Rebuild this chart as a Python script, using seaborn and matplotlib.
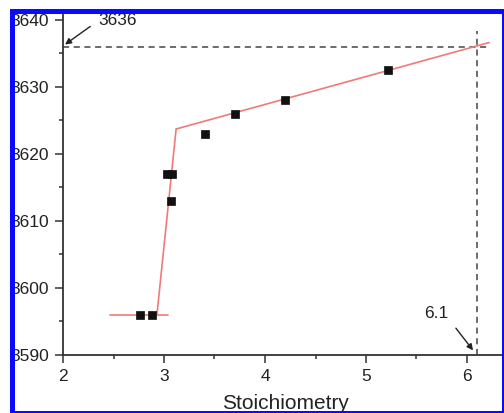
import matplotlib
matplotlib.use("Agg")
import matplotlib.pyplot as plt
from matplotlib.patches import Rectangle
from matplotlib.ticker import MultipleLocator
import seaborn as sns
import pandas as pd

# Measured points
stoichiometry = [2.76, 2.88, 3.03, 3.08, 3.07, 3.41, 3.70, 4.20, 5.22]
frequency = [3596, 3596, 3617, 3617, 3613, 3623, 3626, 3628, 3632.5]

# Fitted segments
seg_low_x = [2.47, 3.04]
seg_low_y = [3596, 3596]
seg_rise_x = [2.93, 3.12]
seg_rise_y = [3596, 3623.7]
seg_high_x = [3.12, 6.22]
seg_high_y = [3623.7, 3636.6]

# Intersection read-outs
cross_x = 6.1
cross_y = 3636

x_ticks = [2, 3, 4, 5, 6]
y_ticks = [3590, 3600, 3610, 3620, 3630, 3640]

sns.set_style("ticks")
plt.rcParams["font.family"] = ["Liberation Sans", "DejaVu Sans"]

W, H = 504, 413
fig = plt.figure(figsize=(W / 100, H / 100), dpi=100)
ax = fig.add_axes([63 / W, (H - 355) / H, 4.4 * 101 / W, (355 - 13) / H])

ink = "#333333"
red = "#f07a78"

pts = pd.DataFrame({"x": stoichiometry, "y": frequency})
fit = pd.concat([
    pd.DataFrame({"x": seg_low_x, "y": seg_low_y, "seg": "low"}),
    pd.DataFrame({"x": seg_rise_x, "y": seg_rise_y, "seg": "rise"}),
    pd.DataFrame({"x": seg_high_x, "y": seg_high_y, "seg": "high"}),
])

sns.lineplot(data=fit, x="x", y="y", units="seg", estimator=None, sort=False,
             color=red, linewidth=1.2, ax=ax, zorder=2)
sns.scatterplot(data=pts, x="x", y="y", marker="s", s=34, color="#111111",
                edgecolor="#111111", linewidth=0.5, ax=ax, zorder=3)

# Dashed guide lines
ax.plot([2, 6.22], [cross_y, cross_y], ls=(0, (4, 3)), color="#444444", lw=1.1, zorder=1)
ax.plot([cross_x, cross_x], [3590, 3638.3], ls=(0, (4, 3)), color="#444444", lw=1.1, zorder=1)

arrow = dict(arrowstyle="-|>", color="#222222", lw=1.0, mutation_scale=9,
             shrinkA=0, shrinkB=0)
ax.annotate("", xy=(2.02, cross_y + 0.3), xytext=(2.27, 3639.0), arrowprops=arrow)
ax.text(2.35, 3639.25, f"{cross_y}", fontsize=12.5, color="#222222",
        ha="left", va="baseline")
ax.annotate("", xy=(6.06, 3590.7), xytext=(5.89, 3594.0), arrowprops=arrow)
ax.text(5.70, 3595.5, f"{cross_x}", fontsize=12.5, color="#222222",
        ha="center", va="baseline")

ax.set_xlim(2, 6.4)
ax.set_ylim(3590, 3641)
ax.set_xticks(x_ticks)
ax.set_yticks(y_ticks)
ax.xaxis.set_minor_locator(MultipleLocator(0.5))
ax.yaxis.set_minor_locator(MultipleLocator(5))
ax.tick_params(which="major", direction="out", length=6, width=1.1, color=ink,
               labelsize=12.5, labelcolor="#222222", pad=4)
ax.tick_params(which="minor", direction="out", length=3, width=1.1, color=ink)
ax.set_xlabel("Stoichiometry", fontsize=15, color="#222222", labelpad=7)
ax.set_ylabel("")
sns.despine(ax=ax)
for side in ("left", "bottom"):
    ax.spines[side].set_color(ink)
    ax.spines[side].set_linewidth(1.3)

# Blue border frame
blue = "#0a0aff"
def px_rect(x0, y0, x1, y1, color):
    fig.add_artist(Rectangle((x0 / W, 1 - y1 / H), (x1 - x0) / W, (y1 - y0) / H,
                             transform=fig.transFigure, color=color, lw=0, zorder=20))

px_rect(0, 0, 10, H, "white")
px_rect(0, 0, W, 9, "white")
px_rect(10, 9, 15, H, blue)
px_rect(10, 9, W, 14, blue)
px_rect(502, 9, W, H, blue)
px_rect(10, 411, W, H, blue)

fig.savefig("out.png", dpi=100)
